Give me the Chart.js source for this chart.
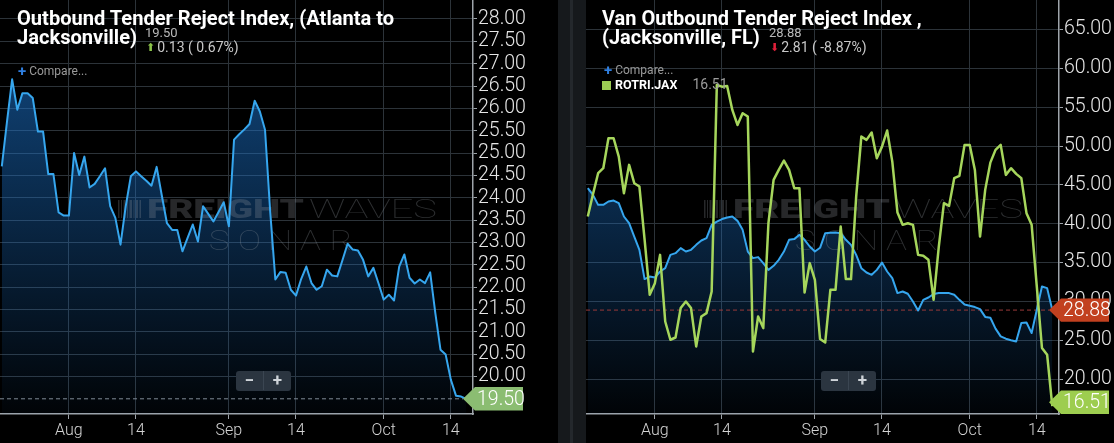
<!DOCTYPE html>
<html>
<head>
<meta charset="utf-8">
<script src="https://cdn.jsdelivr.net/npm/chart.js@4.4.1/dist/chart.umd.min.js"></script>
<style>
  body { margin: 0; width: 1114px; height: 443px; overflow: hidden; position: relative; background: #16191c; font-family: Roboto, sans-serif; }
  canvas { position: absolute; top: 0; }
  #atl { left: 0; }
  #jax { left: 586px; }
  .sep { position: absolute; left: 570px; top: 0; width: 3px; height: 443px; background: #24282c; }
  .title { position: absolute; color: #fff; font-weight: 700; font-size: 20.5px; line-height: 20px; white-space: nowrap; transform-origin: 0 0; }
  .small { position: absolute; color: #b8b8b8; font-size: 13px; line-height: 13px; white-space: nowrap; }
  .chg { position: absolute; color: #c8c8c8; font-size: 14px; line-height: 14px; white-space: nowrap; }
  .up { color: #8bc34a; font-family: "DejaVu Sans"; font-size: 11px; margin-right: 2px; position: relative; top: -1px; }
  .down { color: #e0203a; font-family: "DejaVu Sans"; font-size: 11px; margin-right: 2px; position: relative; top: -1px; }
  .cmp { position: absolute; color: #9a9a9a; font-size: 12px; line-height: 12px; white-space: nowrap; }
  .cmp b { color: #2f7fe0; font-size: 15px; font-weight: 700; margin-right: 3px; position: relative; top: 1px; }
  .leg { position: absolute; white-space: nowrap; font-size: 12.5px; line-height: 13px; }
  .leg i { display: inline-block; width: 9px; height: 9px; background: #9ccc54; margin-right: 4px; position: relative; top: 1px; }
  .leg b { color: #fff; }
  .leg span { color: #9c9c9c; font-size: 14px; margin-left: 15px; }
  .zoom { position: absolute; top: 371px; width: 55px; height: 20px; background: #2b3540; border-radius: 3px; color: #cfd4d9; font-weight: 700; font-size: 17px; line-height: 19px; }
  .zoom span { position: absolute; width: 27px; text-align: center; top: 0; }
  .zoom span.m { left: 0; border-right: 1px solid #3b4652; }
  .zoom span.p { left: 28px; }
</style>
</head>
<body>
<canvas id="atl" width="558" height="443"></canvas>
<div class="sep"></div>
<canvas id="jax" width="528" height="443"></canvas>

<div class="title" id="t1a" style="left:17px;top:8px">Outbound Tender Reject Index, (Atlanta to</div>
<div class="title" id="t1b" style="left:17px;top:27px">Jacksonville)</div>
<div class="small" style="left:145px;top:26px">19.50</div>
<div class="chg" style="left:146px;top:40px"><span class="up">&#x2B06;</span>0.13 ( 0.67%)</div>
<div class="cmp" style="left:18px;top:64px"><b>+</b>Compare...</div>
<div class="zoom" style="left:236px"><span class="m">&minus;</span><span class="p">+</span></div>

<div class="title" id="t2a" style="left:602px;top:8px">Van Outbound Tender Reject Index ,</div>
<div class="title" id="t2b" style="left:602px;top:27px">(Jacksonville, FL)</div>
<div class="small" style="left:769px;top:26px">28.88</div>
<div class="chg" style="left:770px;top:40px"><span class="down">&#x2B07;</span>2.81 ( -8.87%)</div>
<div class="cmp" style="left:604px;top:63px"><b>+</b>Compare...</div>
<div class="leg" style="left:602px;top:78px"><i></i><b>ROTRI.JAX</b><span>16.51</span></div>
<div class="zoom" style="left:821px"><span class="m">&minus;</span><span class="p">+</span></div>

<script>
// days counted from Jul 19, one value per day
const tickDays = [13, 26, 44, 57, 74, 87];
const tickLabels = ['Aug', '14', 'Sep', '14', 'Oct', '14'];

const atlTicks = [20.0, 20.5, 21.0, 21.5, 22.0, 22.5, 23.0, 23.5, 24.0, 24.5, 25.0, 25.5, 26.0, 26.5, 27.0, 27.5, 28.0];
const jaxTicks = [20, 25, 30, 35, 40, 45, 50, 55, 60, 65];

// Outbound Tender Reject Index, Atlanta to Jacksonville
const atlJaxOtri = [
  24.70, 25.70, 26.65, 25.97, 26.34, 26.34, 26.23, 25.48, 25.48, 24.53,
  24.53, 23.67, 23.60, 23.60, 25.00, 24.51, 24.92, 24.23, 24.31, 24.48,
  24.66, 23.81, 23.55, 22.95, 23.80, 24.48, 24.59, 24.48, 24.38, 24.27,
  24.69, 24.05, 23.43, 23.28, 23.28, 22.80, 23.10, 23.40, 23.02, 23.81,
  23.64, 23.47, 23.68, 23.90, 23.36, 25.30, 25.42, 25.53, 25.65, 26.17,
  25.93, 25.52, 23.70, 22.17, 22.34, 22.32, 21.94, 21.81, 22.18, 22.46,
  22.09, 21.94, 22.02, 22.39, 22.26, 22.24, 22.60, 22.97, 22.84, 22.82,
  22.61, 22.24, 22.43, 22.08, 21.72, 21.83, 21.70, 22.46, 22.73, 22.21,
  22.08, 22.17, 22.09, 22.33, 21.42, 20.60, 20.49, 19.93, 19.57, 19.55,
  19.50
];

// Van Outbound Tender Reject Index, Jacksonville FL
const jaxVanOtri = [
  44.58, 43.72, 42.43, 42.43, 42.86, 42.98, 42.65, 40.93, 40.07, 38.35,
  36.64, 32.87, 33.20, 33.07, 33.85, 34.28, 35.99, 36.21, 36.86, 36.42,
  36.64, 37.28, 37.84, 38.14, 39.86, 40.28, 40.60, 40.80, 40.93, 40.37,
  39.21, 36.42, 35.57, 35.70, 34.93, 34.06, 34.58, 35.35, 36.42, 37.93,
  38.02, 38.57, 37.93, 37.07, 36.42, 36.90, 38.79, 38.85, 38.87, 38.79,
  37.93, 37.28, 35.99, 34.28, 33.72, 33.42, 34.06, 35.00, 33.85, 33.00,
  31.07, 31.27, 30.98, 29.99, 28.83, 30.20, 30.50, 30.94, 31.07, 31.07,
  31.07, 30.85, 30.20, 29.60, 29.43, 29.27, 29.00, 28.00, 27.90, 26.50,
  25.50, 25.20, 25.00, 24.84, 27.21, 27.29, 25.92, 28.92, 31.92, 31.71,
  28.88
];

// ROTRI.JAX
const rotriJax = [
  40.93, 43.80, 46.51, 47.15, 51.01, 51.01, 48.64, 43.93, 47.58, 45.22,
  44.79, 38.00, 30.85, 32.35, 35.99, 27.41, 25.06, 25.35, 29.14, 29.99,
  29.14, 24.20, 28.06, 28.49, 31.27, 57.87, 57.65, 57.74, 54.65, 52.72,
  54.23, 53.80, 23.55, 28.06, 26.56, 40.07, 45.65, 46.93, 48.13, 46.93,
  44.58, 44.58, 31.14, 34.93, 32.78, 25.15, 24.70, 31.49, 31.49, 39.64,
  32.87, 32.87, 43.50, 51.22, 50.80, 51.74, 48.44, 49.93, 52.00, 48.00,
  41.44, 39.86, 40.07, 39.86, 35.99, 35.87, 35.35, 30.20, 37.00, 42.65,
  42.30, 45.87, 46.16, 50.15, 50.15, 46.93, 38.35, 44.36, 47.87, 49.51,
  50.15, 46.29, 47.15, 46.42, 45.87, 41.36, 39.86, 31.90, 24.00, 23.13,
  16.51
];

const gridColor = '#2c3339';
const axisColor = '#9ea4aa';
const blue = '#36a6ee';
const green = '#a6d65c';

function toPoints(values) {
  return values.map((v, i) => ({ x: i, y: v }));
}

function blueFill(ctx) {
  const area = ctx.chart.chartArea;
  if (!area) return 'transparent';
  const g = ctx.chart.ctx.createLinearGradient(0, area.top, 0, area.bottom);
  g.addColorStop(0, 'rgba(28,118,210,0.66)');
  g.addColorStop(1, 'rgba(28,118,210,0.03)');
  return g;
}

function drawWatermark(c, area) {
  const x0 = area.left, y0 = area.top;
  c.save();
  c.fillStyle = 'rgba(150,156,162,0.26)';
  // little barcode logo
  [[118, 1.5], [121, 1], [123.5, 2], [127, 1], [129.5, 2.5], [133.5, 1], [136, 2], [139.5, 1.5]].forEach(b => {
    c.fillRect(x0 + b[0], y0 + 200, b[1], 18);
  });
  c.textBaseline = 'alphabetic';
  c.font = '900 25px Roboto';
  let w = c.measureText('FREIGHT').width;
  c.save();
  c.translate(x0 + 147, y0 + 218);
  c.scale(157 / w, 1);
  c.fillText('FREIGHT', 0, 0);
  c.restore();
  c.fillStyle = 'rgba(150,156,162,0.3)';
  c.font = '100 25px Roboto';
  w = c.measureText('WAVES').width;
  c.save();
  c.translate(x0 + 309, y0 + 218);
  c.scale(128 / w, 1);
  c.fillText('WAVES', 0, 0);
  c.restore();
  c.font = '100 28px Roboto';
  c.textAlign = 'center';
  'SONAR'.split('').forEach((ch, i) => {
    c.save();
    c.translate(x0 + 219 + i * 30.5, y0 + 250);
    c.scale(1.25, 1);
    c.fillText(ch, 0, 0);
    c.restore();
  });
  c.restore();
}

function drawTag(c, area, y, text, color) {
  const h = 11.7;
  const tip = area.right - 10;
  const bx = area.right + 2;
  y = Math.min(y, area.bottom - h);
  c.save();
  c.fillStyle = color;
  c.beginPath();
  c.moveTo(tip, y);
  c.lineTo(bx, y - h);
  c.lineTo(bx + 48, y - h);
  c.lineTo(bx + 48, y + h);
  c.lineTo(bx, y + h);
  c.closePath();
  c.fill();
  c.fillStyle = '#ffffff';
  c.font = '300 19.5px Roboto';
  c.textBaseline = 'middle';
  c.textAlign = 'left';
  c.fillText(text, bx + 2, y + 1);
  c.restore();
}

const decor = {
  id: 'decor',
  beforeDraw(chart) {
    const c = chart.ctx;
    c.save();
    c.fillStyle = '#000';
    c.fillRect(0, 0, chart.width, chart.height);
    c.restore();
  },
  beforeDatasetsDraw(chart, args, opts) {
    const c = chart.ctx, area = chart.chartArea;
    c.save();
    c.beginPath();
    c.rect(area.left, area.top, area.width, area.height);
    c.clip();
    drawWatermark(c, area);
    const y = chart.scales.y.getPixelForValue(opts.lastValue);
    c.strokeStyle = opts.dashColor;
    c.lineWidth = 1;
    c.setLineDash([4, 3]);
    c.beginPath();
    c.moveTo(area.left, y);
    c.lineTo(area.right - 10, y);
    c.stroke();
    c.restore();
  },
  afterDraw(chart, args, opts) {
    const c = chart.ctx, area = chart.chartArea, ys = chart.scales.y;
    opts.tags.forEach(t => drawTag(c, area, ys.getPixelForValue(t.value), t.value.toFixed(2), t.color));
  }
};

function makeChart(id, datasets, ticks, yMin, yMax, yWidth, decorOpts) {
  return new Chart(document.getElementById(id), {
    type: 'line',
    data: { datasets: datasets },
    options: {
      responsive: false,
      animation: false,
      devicePixelRatio: 1,
      layout: { padding: 0, autoPadding: false },
      elements: { point: { radius: 0 }, line: { tension: 0, borderJoinStyle: 'round' } },
      plugins: {
        legend: { display: false },
        tooltip: { enabled: false },
        filler: { drawTime: 'beforeDatasetsDraw' },
        decor: decorOpts
      },
      scales: {
        x: {
          type: 'linear',
          min: -0.35,
          max: 91.3,
          afterBuildTicks: s => { s.ticks = tickDays.map(v => ({ value: v })); },
          afterFit: s => { s.height = 29; s.paddingLeft = 0; s.paddingRight = 0; },
          ticks: {
            autoSkip: false, maxRotation: 0, padding: 2,
            color: '#d4d4d4',
            font: { family: 'Roboto', size: 16, weight: 300 },
            callback: (v, i) => tickLabels[i]
          },
          grid: { color: gridColor, tickColor: axisColor, tickLength: 5 },
          border: { color: axisColor, width: 1.5 }
        },
        y: {
          position: 'right',
          min: yMin,
          max: yMax,
          afterBuildTicks: s => { s.ticks = ticks.map(v => ({ value: v })); },
          afterFit: s => { s.width = yWidth; s.paddingTop = 0; s.paddingBottom = 0; },
          ticks: {
            autoSkip: false,
            padding: 1,
            color: '#e6e6e6',
            font: { family: 'Roboto', size: 19.5, weight: 300 },
            callback: v => v.toFixed(2)
          },
          grid: { color: gridColor, tickColor: axisColor, tickLength: 4 },
          border: { color: axisColor, width: 1.5 }
        }
      }
    },
    plugins: [decor]
  });
}

makeChart('atl', [{
  data: toPoints(atlJaxOtri),
  borderColor: blue,
  borderWidth: 2,
  fill: 'start',
  backgroundColor: blueFill
}], atlTicks, 19.16, 28.425, 85, {
  lastValue: 19.50,
  dashColor: '#7f8b96',
  tags: [{ value: 19.50, color: '#8bbd72' }]
});

makeChart('jax', [{
  data: toPoints(rotriJax),
  borderColor: green,
  borderWidth: 2.5,
  fill: false,
  order: 0
}, {
  data: toPoints(jaxVanOtri),
  borderColor: blue,
  borderWidth: 2,
  fill: 'start',
  backgroundColor: blueFill,
  order: 1
}], jaxTicks, 15.5, 68.81, 55, {
  lastValue: 28.88,
  dashColor: '#9a3a3a',
  tags: [{ value: 28.88, color: '#c2401f' }, { value: 16.51, color: '#9dcd4f' }]
});

// squeeze bold titles to the condensed width of the original
[['t1a', 't1b', 377], ['t2a', 't2b', 320]].forEach(([a, b, target]) => {
  const s = target / document.getElementById(a).offsetWidth;
  [a, b].forEach(id => { document.getElementById(id).style.transform = 'scaleX(' + s + ')'; });
});
</script>
</body>
</html>
